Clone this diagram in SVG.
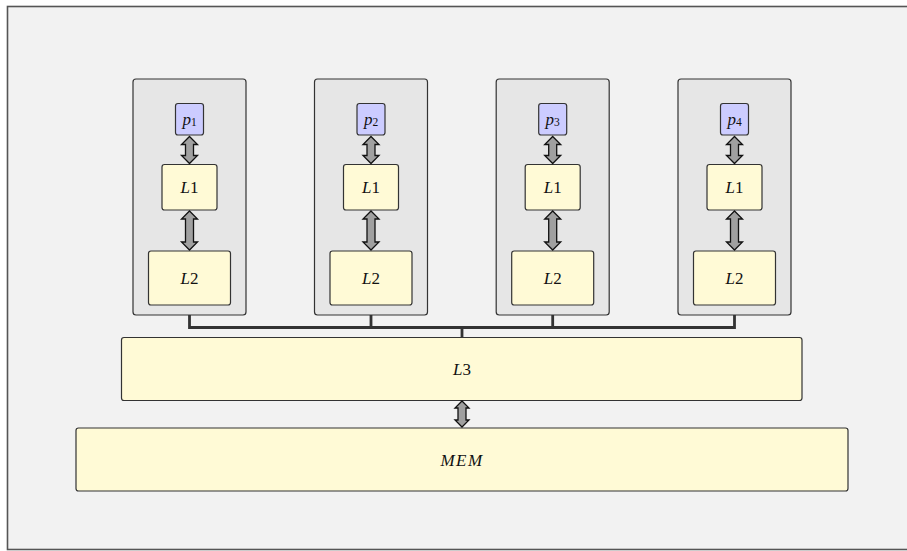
<svg xmlns="http://www.w3.org/2000/svg" width="907" height="551" viewBox="0 0 907 551">
  <style>
    .frame { fill: #f2f2f2; stroke: #555; stroke-width: 1.6; }
    .core { fill: #e6e6e6; stroke: #333; stroke-width: 1.2; }
    .cache { fill: #fffad6; stroke: #333; stroke-width: 1.2; }
    .proc { fill: #ccccff; stroke: #333; stroke-width: 1.2; }
    .arrow { fill: #a0a0a0; stroke: #111; stroke-width: 1.3; stroke-linejoin: miter; }
    .bus { fill: none; stroke: #333; stroke-width: 2.8; }
    text { font-family: "Liberation Serif", "Times New Roman", serif; font-size: 17px; fill: #111; text-anchor: middle; dominant-baseline: central; }
    .it { font-style: italic; }
    .sub { font-size: 11.5px; }
  </style>

  <rect x="0" y="0" width="907" height="551" fill="#ffffff"/>
  <rect class="frame" x="7.5" y="6.5" width="910" height="543"/>

  <!-- core 1 -->
  <g id="core1" transform="translate(189.5,0)">
    <rect class="core" x="-56.5" y="79" width="113" height="236" rx="3"/>
    <g id="p1"><rect class="proc" x="-14" y="103.5" width="28" height="31.5" rx="2.5"/>
      <text x="0" y="118.5"><tspan class="it">p</tspan><tspan class="sub" dy="3">1</tspan></text></g>
    <g id="l1_1"><rect class="cache" x="-27.5" y="164.5" width="55" height="45.5" rx="2.5"/>
      <text x="0" y="187"><tspan class="it">L</tspan>1</text></g>
    <g id="l2_1"><rect class="cache" x="-41" y="251" width="82" height="54" rx="2.5"/>
      <text x="0" y="278"><tspan class="it">L</tspan>2</text></g>
  </g>

  <!-- core 2 -->
  <g id="core2" transform="translate(371,0)">
    <rect class="core" x="-56.5" y="79" width="113" height="236" rx="3"/>
    <g id="p2"><rect class="proc" x="-14" y="103.5" width="28" height="31.5" rx="2.5"/>
      <text x="0" y="118.5"><tspan class="it">p</tspan><tspan class="sub" dy="3">2</tspan></text></g>
    <g id="l1_2"><rect class="cache" x="-27.5" y="164.5" width="55" height="45.5" rx="2.5"/>
      <text x="0" y="187"><tspan class="it">L</tspan>1</text></g>
    <g id="l2_2"><rect class="cache" x="-41" y="251" width="82" height="54" rx="2.5"/>
      <text x="0" y="278"><tspan class="it">L</tspan>2</text></g>
  </g>

  <!-- core 3 -->
  <g id="core3" transform="translate(552.7,0)">
    <rect class="core" x="-56.5" y="79" width="113" height="236" rx="3"/>
    <g id="p3"><rect class="proc" x="-14" y="103.5" width="28" height="31.5" rx="2.5"/>
      <text x="0" y="118.5"><tspan class="it">p</tspan><tspan class="sub" dy="3">3</tspan></text></g>
    <g id="l1_3"><rect class="cache" x="-27.5" y="164.5" width="55" height="45.5" rx="2.5"/>
      <text x="0" y="187"><tspan class="it">L</tspan>1</text></g>
    <g id="l2_3"><rect class="cache" x="-41" y="251" width="82" height="54" rx="2.5"/>
      <text x="0" y="278"><tspan class="it">L</tspan>2</text></g>
  </g>

  <!-- core 4 -->
  <g id="core4" transform="translate(734.5,0)">
    <rect class="core" x="-56.5" y="79" width="113" height="236" rx="3"/>
    <g id="p4"><rect class="proc" x="-14" y="103.5" width="28" height="31.5" rx="2.5"/>
      <text x="0" y="118.5"><tspan class="it">p</tspan><tspan class="sub" dy="3">4</tspan></text></g>
    <g id="l1_4"><rect class="cache" x="-27.5" y="164.5" width="55" height="45.5" rx="2.5"/>
      <text x="0" y="187"><tspan class="it">L</tspan>1</text></g>
    <g id="l2_4"><rect class="cache" x="-41" y="251" width="82" height="54" rx="2.5"/>
      <text x="0" y="278"><tspan class="it">L</tspan>2</text></g>
  </g>

  <!-- shared last-level cache -->
  <g id="l3">
    <rect class="cache" x="121.5" y="337.5" width="680.5" height="63" rx="2.5"/>
    <text x="462" y="369"><tspan class="it">L</tspan>3</text>
  </g>

  <!-- main memory -->
  <g id="mem">
    <rect class="cache" x="76" y="428" width="772" height="63" rx="2.5"/>
    <text x="462" y="460" class="it" letter-spacing="1.5">MEM</text>
  </g>

  <!-- connectors: shared bus and bidirectional links, drawn over the core panels -->
  <g id="connectors">
    <path class="bus" d="M189.5,315 V327.5 H734.5 V315 M371,315 V327.5 M552.7,315 V327.5 M462,327.5 V337"/>
    <g transform="translate(189.5,0)">
      <path class="arrow" d="M0,136.5 L8,144.5 L4,144.5 L4,155.5 L8,155.5 L0,163.5 L-8,155.5 L-4,155.5 L-4,144.5 L-8,144.5 Z"/>
      <path class="arrow" d="M0,211 L8,219 L4,219 L4,242 L8,242 L0,250 L-8,242 L-4,242 L-4,219 L-8,219 Z"/>
    </g>
    <g transform="translate(371,0)">
      <path class="arrow" d="M0,136.5 L8,144.5 L4,144.5 L4,155.5 L8,155.5 L0,163.5 L-8,155.5 L-4,155.5 L-4,144.5 L-8,144.5 Z"/>
      <path class="arrow" d="M0,211 L8,219 L4,219 L4,242 L8,242 L0,250 L-8,242 L-4,242 L-4,219 L-8,219 Z"/>
    </g>
    <g transform="translate(552.7,0)">
      <path class="arrow" d="M0,136.5 L8,144.5 L4,144.5 L4,155.5 L8,155.5 L0,163.5 L-8,155.5 L-4,155.5 L-4,144.5 L-8,144.5 Z"/>
      <path class="arrow" d="M0,211 L8,219 L4,219 L4,242 L8,242 L0,250 L-8,242 L-4,242 L-4,219 L-8,219 Z"/>
    </g>
    <g transform="translate(734.5,0)">
      <path class="arrow" d="M0,136.5 L8,144.5 L4,144.5 L4,155.5 L8,155.5 L0,163.5 L-8,155.5 L-4,155.5 L-4,144.5 L-8,144.5 Z"/>
      <path class="arrow" d="M0,211 L8,219 L4,219 L4,242 L8,242 L0,250 L-8,242 L-4,242 L-4,219 L-8,219 Z"/>
    </g>
    <path class="arrow" d="M462,401 L469,408 L466,408 L466,420 L469,420 L462,427 L455,420 L458,420 L458,408 L455,408 Z"/>
  </g>
</svg>
